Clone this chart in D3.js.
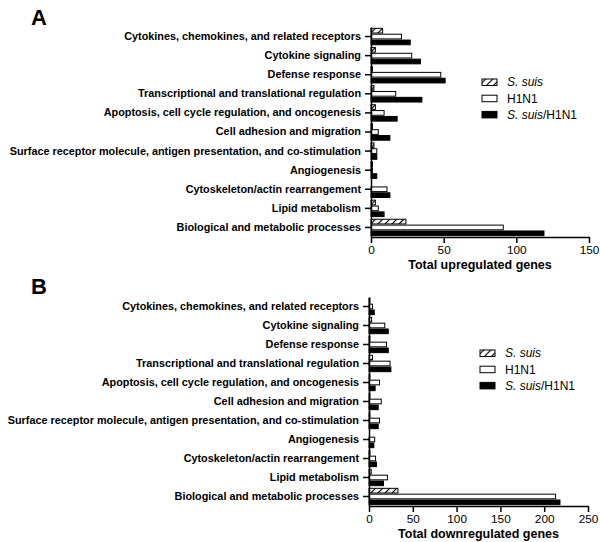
<!DOCTYPE html>
<html>
<head>
<meta charset="utf-8">
<script src="https://cdn.jsdelivr.net/npm/d3@7"></script>
<style>
  body { margin: 0; background: #fff; }
  text { font-family: "Liberation Sans", Arial, sans-serif; }
  .cat { font-weight: bold; font-size: 10.85px; }
  .tick-label { font-size: 11.8px; }
  .axis-title { font-weight: bold; font-size: 12.5px; }
  .panel-letter { font-weight: bold; font-size: 22px; }
  .legend-text { font-size: 12px; }
</style>
</head>
<body>
<div id="chart"></div>
<script>
var categories = [
  "Cytokines, chemokines, and related receptors",
  "Cytokine signaling",
  "Defense response",
  "Transcriptional and translational regulation",
  "Apoptosis, cell cycle regulation, and oncogenesis",
  "Cell adhesion and migration",
  "Surface receptor molecule, antigen presentation, and co-stimulation",
  "Angiogenesis",
  "Cytoskeleton/actin rearrangement",
  "Lipid metabolism",
  "Biological and metabolic processes"
];
var seriesNames = ["suis", "h1n1", "both"];

// panel A: upregulated
var upSuis = [8, 3, 1, 2, 3, 1, 2, 1, 0, 3, 24];
var upH1N1 = [21, 28, 48, 17, 9, 5, 4, 1, 11, 5, 91];
var upBoth = [27, 34, 51, 35, 18, 13, 4, 4, 13, 9, 119];
var upTicks = [0, 50, 100, 150];

// panel B: downregulated
var downSuis = [1, 3, 1, 4, 1, 1, 1, 0, 1, 2.5, 33];
var downH1N1 = [4, 18, 20, 24, 12, 14, 12, 6.5, 7.5, 21, 213];
var downBoth = [6, 22, 22, 25, 7, 10.5, 10.5, 5.5, 8.5, 16.5, 218];
var downTicks = [0, 50, 100, 150, 200, 250];

var svg = d3.select('#chart')
  .append('svg')
  .attr('width', 600)
  .attr('height', 542);

var defs = svg.append('defs');
var pat = defs.append('pattern')
  .attr('id', 'hatch')
  .attr('patternUnits', 'userSpaceOnUse')
  .attr('width', 5)
  .attr('height', 5)
  .attr('patternTransform', 'rotate(45)');
pat.append('rect').attr('width', 5).attr('height', 5).attr('fill', '#fff');
pat.append('line')
  .attr('x1', 0).attr('y1', 0).attr('x2', 0).attr('y2', 5)
  .attr('stroke', '#000').attr('stroke-width', 2.2);

var fills = { suis: 'url(#hatch)', h1n1: '#fff', both: '#000' };

function drawPanel(cfg) {
  var x = d3.scaleLinear()
    .domain([0, cfg.ticks[cfg.ticks.length - 1]])
    .range([cfg.x0, cfg.x1]);

  var y = d3.scaleBand()
    .domain(categories)
    .range([cfg.yTop, cfg.yBottom])
    .paddingInner(0.14)
    .paddingOuter(0.07);

  var inner = d3.scaleBand()
    .domain(seriesNames)
    .range([0, y.bandwidth()])
    .paddingInner(0.2);

  var g = svg.append('g');

  var rows = g.selectAll('g.row')
    .data(categories.map(function(c, i) {
      return { cat: c, values: [cfg.suis[i], cfg.h1n1[i], cfg.both[i]] };
    }))
    .enter()
    .append('g')
    .attr('class', 'row')
    .attr('transform', function(d) { return 'translate(0,' + y(d.cat) + ')'; });

  rows.selectAll('rect')
    .data(function(d) {
      return d.values.map(function(v, j) { return { key: seriesNames[j], value: v }; });
    })
    .enter()
    .append('rect')
    .attr('x', x(0))
    .attr('y', function(d) { return inner(d.key); })
    .attr('width', function(d) { return Math.max(0, x(d.value) - x(0)); })
    .attr('height', inner.bandwidth())
    .attr('fill', function(d) { return fills[d.key]; })
    .attr('stroke', '#000')
    .attr('stroke-width', function(d) { return d.value > 0 ? 1 : 0; });

  // y axis
  var yAxis = g.append('g')
    .attr('transform', 'translate(' + x(0) + ',0)')
    .call(d3.axisLeft(y).tickSize(6).tickPadding(4).tickSizeOuter(0));
  yAxis.select('.domain').attr('stroke-width', 1.5);
  yAxis.selectAll('.tick line').attr('stroke-width', 1.5);
  yAxis.selectAll('.tick text')
    .attr('class', 'cat')
    .attr('fill', '#000');

  // x axis
  var xAxis = g.append('g')
    .attr('transform', 'translate(0,' + cfg.yBottom + ')')
    .call(d3.axisBottom(x).tickValues(cfg.ticks).tickSize(6).tickSizeOuter(0).tickPadding(3));
  xAxis.select('.domain').attr('stroke-width', 1.5);
  xAxis.selectAll('.tick line').attr('stroke-width', 1.5);
  xAxis.selectAll('.tick text')
    .attr('class', 'tick-label')
    .attr('fill', '#000');
  xAxis.attr('font-size', null).attr('font-family', null);
  yAxis.attr('font-size', null).attr('font-family', null);

  g.append('text')
    .attr('class', 'axis-title')
    .attr('x', (cfg.x0 + cfg.x1) / 2)
    .attr('y', cfg.yBottom + 32)
    .attr('text-anchor', 'middle')
    .text(cfg.title);

  g.append('text')
    .attr('class', 'panel-letter')
    .attr('x', 31)
    .attr('y', cfg.letterY)
    .text(cfg.letter);

  // legend
  var legendItems = [
    { key: 'suis', parts: [{ t: 'S. suis', it: true }] },
    { key: 'h1n1', parts: [{ t: 'H1N1', it: false }] },
    { key: 'both', parts: [{ t: 'S. suis', it: true }, { t: '/H1N1', it: false }] }
  ];
  var lg = g.append('g')
    .attr('transform', 'translate(' + cfg.legendX + ',' + cfg.legendY + ')');
  var li = lg.selectAll('g')
    .data(legendItems)
    .enter()
    .append('g')
    .attr('transform', function(d, i) { return 'translate(0,' + (i * 16.2) + ')'; });
  li.append('rect')
    .attr('x', 0).attr('y', -3)
    .attr('width', 15).attr('height', 6.5)
    .attr('fill', function(d) { return fills[d.key]; })
    .attr('stroke', '#000')
    .attr('stroke-width', 1);
  var lt = li.append('text')
    .attr('class', 'legend-text')
    .attr('x', 25)
    .attr('dy', '0.36em');
  lt.selectAll('tspan')
    .data(function(d) { return d.parts; })
    .enter()
    .append('tspan')
    .style('font-style', function(d) { return d.it ? 'italic' : 'normal'; })
    .text(function(d) { return d.t; });
}

drawPanel({
  letter: 'A', letterY: 25,
  suis: upSuis, h1n1: upH1N1, both: upBoth, ticks: upTicks,
  x0: 371, x1: 589, yTop: 27, yBottom: 237,
  title: 'Total upregulated genes',
  legendX: 482, legendY: 82
});

drawPanel({
  letter: 'B', letterY: 294,
  suis: downSuis, h1n1: downH1N1, both: downBoth, ticks: downTicks,
  x0: 369, x1: 588, yTop: 297, yBottom: 506,
  title: 'Total downregulated genes',
  legendX: 480, legendY: 353
});
</script>
</body>
</html>
